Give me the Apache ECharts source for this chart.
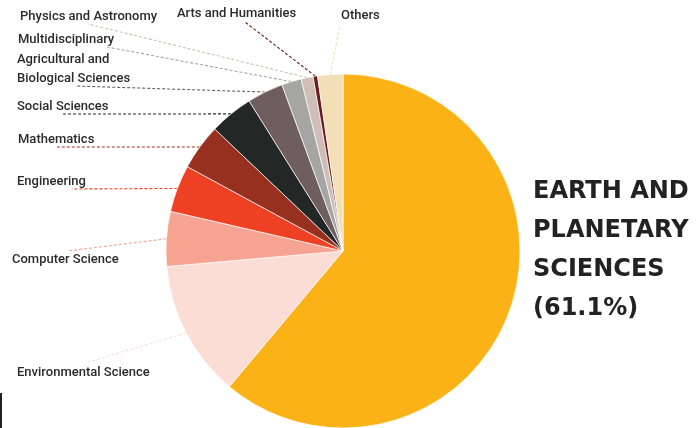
<!DOCTYPE html>
<html>
<head>
<meta charset="utf-8">
<script src="https://cdn.jsdelivr.net/npm/echarts@6/dist/echarts.min.js"></script>
<style>
  html, body { margin: 0; padding: 0; background: #ffffff; }
  #chart { width: 699px; height: 428px; }
</style>
</head>
<body>
<div id="chart"></div>
<script>
// Share of publications by subject area (%)
const categories = [
  'Earth and Planetary Sciences',
  'Environmental Science',
  'Computer Science',
  'Engineering',
  'Mathematics',
  'Social Sciences',
  'Agricultural and Biological Sciences',
  'Multidisciplinary',
  'Physics and Astronomy',
  'Arts and Humanities',
  'Others'
];
const shares = [61.1, 12.5, 5.0, 4.3, 4.2, 4.0, 3.3, 1.8, 1.1, 0.4, 2.3];

// Text shown next to each slice (the leading slice is described on the right instead)
const labelTexts = [
  null,
  'Environmental Science',
  'Computer Science',
  'Engineering',
  'Mathematics',
  'Social Sciences',
  'Agricultural and\nBiological Sciences',
  'Multidisciplinary',
  'Physics and Astronomy',
  'Arts and Humanities',
  'Others'
];
const headline = 'EARTH AND\nPLANETARY\nSCIENCES';

const colors = [
  '#fbb216', '#fbddd5', '#f6a491', '#ee4123', '#98301f', '#232826',
  '#6e5e5e', '#a5a5a3', '#cfbdb8', '#6b1a1e', '#f3dfb6'
];

// Label placement: [left x, middle y, leader end x, leader end y]
const labelSpots = [
  null,
  [17, 373, 85, 363],
  [12, 260, 67, 251],
  [17, 182, 72, 189],
  [18, 140, 57, 147],
  [17, 107, 63, 114],
  [17, 69.5, 75, 86],
  [18, 40, 107, 47],
  [20, 17, 88, 24],
  [177, 14, 245, 22],
  [341, 16, 340, 25]
];

const chart = echarts.init(document.getElementById('chart'), null, { renderer: 'canvas' });

const seriesData = categories.map((name, i) => ({
  name: name,
  value: shares[i],
  itemStyle: { color: colors[i] },
  label: { show: labelTexts[i] !== null },
  labelLine: {
    show: labelTexts[i] !== null,
    lineStyle: { color: colors[i] }
  }
}));

chart.setOption({
  animation: false,
  backgroundColor: '#ffffff',
  title: {
    text: headline + '\n(' + shares[0].toFixed(1) + '%)',
    left: 533,
    top: 172,
    padding: 0,
    textStyle: {
      fontFamily: 'DejaVu Sans',
      fontWeight: 'bold',
      fontSize: 24,
      lineHeight: 39,
      color: '#222222'
    }
  },
  graphic: [{
    type: 'rect',
    left: 0,
    top: 393,
    shape: { width: 2, height: 35 },
    style: { fill: '#222222' }
  }],
  series: [{
    type: 'pie',
    center: [343, 251],
    radius: 177,
    startAngle: 90,
    clockwise: true,
    avoidLabelOverlap: false,
    itemStyle: { borderColor: 'rgba(255,255,255,0.85)', borderWidth: 0.8 },
    label: {
      position: 'outside',
      formatter: (p) => labelTexts[p.dataIndex] || '',
      fontFamily: 'Roboto',
      fontWeight: 500,
      fontSize: 13,
      lineHeight: 19,
      color: '#2b2b2b'
    },
    labelLine: {
      length: 10,
      length2: 10,
      smooth: false,
      lineStyle: { width: 1.1, type: [3, 2] }
    },
    labelLayout: (params) => {
      const spot = labelSpots[params.dataIndex];
      if (!spot) return {};
      const start = params.labelLinePoints ? params.labelLinePoints[0] : null;
      const out = {
        x: spot[0],
        y: spot[1],
        align: 'left',
        verticalAlign: 'middle'
      };
      if (start) out.labelLinePoints = [start, [spot[2], spot[3]]];
      return out;
    },
    data: seriesData
  }]
});
</script>
</body>
</html>
